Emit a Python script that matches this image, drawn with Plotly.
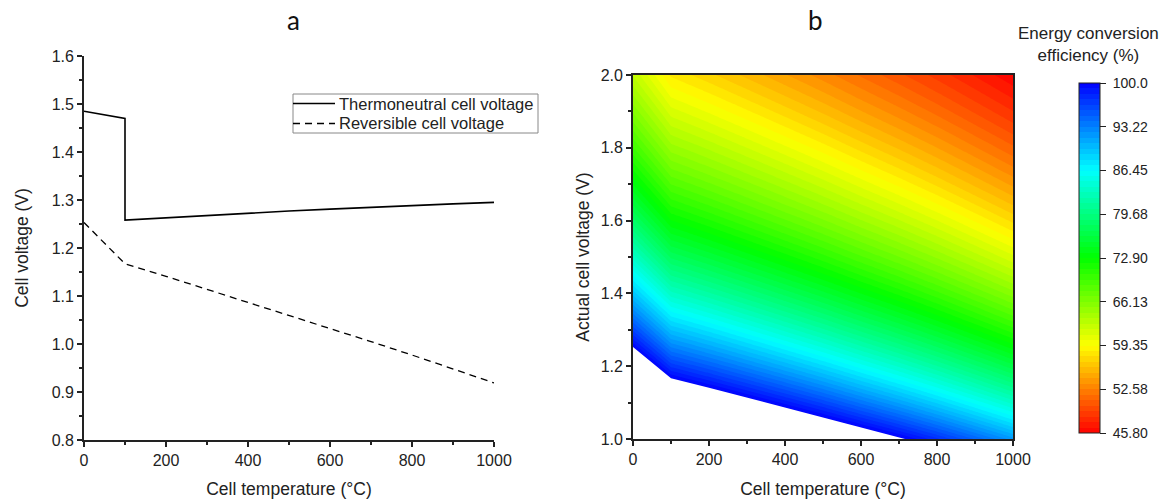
import numpy as np
import plotly.graph_objects as go

# ---- data ----
temp_tn = [0, 100, 100, 200, 300, 400, 500, 600, 700, 800, 900, 1000]
v_thermoneutral = [1.485, 1.470, 1.258, 1.263, 1.268, 1.273, 1.277, 1.281, 1.285, 1.288, 1.292, 1.295]

temp_rev = [0, 100, 200, 300, 400, 500, 600, 700, 800, 900, 1000]
v_reversible = [1.253, 1.167, 1.141, 1.114, 1.087, 1.060, 1.032, 1.005, 0.977, 0.948, 0.919]

series_names = ["Thermoneutral cell voltage", "Reversible cell voltage"]

cbar_ticks = [45.80, 52.58, 59.35, 66.13, 72.90, 79.68, 86.45, 93.22, 100.0]
cbar_text = ["45.80", "52.58", "59.35", "66.13", "72.90", "79.68", "86.45", "93.22", "100.0"]

# grid for panel b: efficiency = reversible voltage / actual voltage
t_grid = np.linspace(0, 1000, 201)
v_grid = np.linspace(1.0, 2.0, 201)
vrev_grid = np.interp(t_grid, temp_rev, v_reversible)
eff = vrev_grid[None, :] / v_grid[:, None] * 100.0

W, H = 1171, 499
FONT = "Liberation Sans, Arial, sans-serif"
AX = "#222222"

def px_x(p):
    return p / W

def px_y(p):
    return 1 - p / H

fig = go.Figure()

fig.add_trace(go.Scatter(x=temp_tn, y=v_thermoneutral, mode="lines",
                         name=series_names[0], showlegend=False,
                         line=dict(color="black", width=1.6),
                         xaxis="x", yaxis="y"))
fig.add_trace(go.Scatter(x=temp_rev, y=v_reversible, mode="lines",
                         name=series_names[1], showlegend=False,
                         line=dict(color="black", width=1.3, dash="7px,5px"),
                         xaxis="x", yaxis="y"))

colorscale = [[0.0, "rgb(255,0,0)"], [0.125, "rgb(255,128,0)"], [0.25, "rgb(255,255,0)"],
              [0.5, "rgb(0,255,0)"], [0.75, "rgb(0,255,255)"], [0.875, "rgb(0,128,255)"],
              [1.0, "rgb(0,0,255)"]]

fig.add_trace(go.Contour(
    x=t_grid, y=v_grid, z=eff,
    colorscale=colorscale, zmin=45.8, zmax=100,
    contours=dict(start=45.8, end=100, size=(100 - 45.8) / 64, coloring="fill", showlines=False),
    line=dict(width=0),
    showlegend=False,
    xaxis="x2", yaxis="y2",
    colorbar=dict(
        x=px_x(1079), xanchor="left", xref="paper",
        y=px_y(258), yanchor="middle",
        len=350, lenmode="pixels",
        thickness=21, thicknessmode="pixels",
        outlinewidth=1, outlinecolor=AX,
        tickvals=cbar_ticks, ticktext=["\u00a0" + t for t in cbar_text],
        ticks="outside", ticklen=6, tickcolor=AX,
        tickfont=dict(family=FONT, size=14, color="#222"),
        xpad=0, ypad=0,
    ),
    hoverinfo="skip",
))

# white region where actual voltage is below the reversible voltage
fig.add_trace(go.Scatter(x=temp_rev, y=v_reversible, mode="lines",
                         line=dict(color="white", width=0),
                         fill="tozeroy", fillcolor="white",
                         showlegend=False, xaxis="x2", yaxis="y2", hoverinfo="skip"))

axis_common = dict(
    showgrid=False, zeroline=False, showline=True, linecolor=AX, linewidth=1.8,
    ticks="outside", ticklen=5, tickwidth=1.5, tickcolor=AX, automargin=False,
    tickfont=dict(family=FONT, size=16, color="#222"),
)
title_font = dict(family=FONT, size=17.5, color="#222")

# hand-built legend box (compact, as in the reference)
LG_L, LG_R, LG_T, LG_B = 293, 538, 94, 133
shapes = [
    dict(type="rect", xref="paper", yref="paper",
         x0=px_x(LG_L), x1=px_x(LG_R), y0=px_y(LG_B), y1=px_y(LG_T),
         line=dict(color="#888", width=1), fillcolor="white", layer="above"),
    dict(type="line", xref="paper", yref="paper",
         x0=px_x(LG_L), x1=px_x(LG_L + 42), y0=px_y(103.5), y1=px_y(103.5),
         line=dict(color="black", width=1.5), layer="above"),
    dict(type="line", xref="paper", yref="paper",
         x0=px_x(LG_L), x1=px_x(LG_L + 42), y0=px_y(123.5), y1=px_y(123.5),
         line=dict(color="black", width=1.3, dash="7px,5px"), layer="above"),
]

annotations = [
    dict(text=series_names[0], x=px_x(337), y=px_y(103.5), xref="paper", yref="paper",
         xanchor="left", yanchor="middle", showarrow=False,
         font=dict(family=FONT, size=16.5, color="#222")),
    dict(text=series_names[1], x=px_x(337), y=px_y(123.5), xref="paper", yref="paper",
         xanchor="left", yanchor="middle", showarrow=False,
         font=dict(family=FONT, size=16.5, color="#222")),
    dict(text="a", x=px_x(293), y=px_y(20), xref="paper", yref="paper",
         xanchor="center", yanchor="middle", showarrow=False,
         font=dict(family="Lato, Open Sans, sans-serif", size=26, color="#111")),
    dict(text="b", x=px_x(815), y=px_y(20), xref="paper", yref="paper",
         xanchor="center", yanchor="middle", showarrow=False,
         font=dict(family="Lato, Open Sans, sans-serif", size=26, color="#111")),
    dict(text="Energy conversion<br>efficiency (%)", x=px_x(1088), y=px_y(45),
         xref="paper", yref="paper", xanchor="center", yanchor="middle",
         showarrow=False, align="center",
         font=dict(family=FONT, size=17, color="#222")),
]

fig.update_layout(
    width=W, height=H,
    margin=dict(l=0, r=0, t=0, b=0),
    paper_bgcolor="white", plot_bgcolor="white",
    font=dict(family=FONT, size=16, color="#222"),
    showlegend=False,
    xaxis=dict(domain=[px_x(84), px_x(494)], range=[0, 1000], dtick=200,
               minor=dict(dtick=100, ticks="outside", ticklen=3, tickcolor=AX),
               title=dict(text="Cell temperature (°C)", standoff=16, font=title_font),
               anchor="y", **axis_common),
    yaxis=dict(domain=[px_y(440), px_y(56)], range=[0.8, 1.6], dtick=0.1, tickformat=".1f",
               minor=dict(dtick=0.05, ticks="outside", ticklen=3, tickcolor=AX),
               title=dict(text="Cell voltage (V)", standoff=19, font=title_font),
               anchor="x", **axis_common),
    xaxis2=dict(domain=[px_x(633), px_x(1013)], range=[0, 1000], dtick=200,
                minor=dict(dtick=100, ticks="outside", ticklen=3, tickcolor=AX),
                title=dict(text="Cell temperature (°C)", standoff=16, font=title_font),
                mirror=True, anchor="y2", **axis_common),
    yaxis2=dict(domain=[px_y(439), px_y(75)], range=[1.0, 2.0], dtick=0.2, tickformat=".1f",
                minor=dict(dtick=0.1, ticks="outside", ticklen=3, tickcolor=AX),
                title=dict(text="Actual cell voltage (V)", standoff=7, font=title_font),
                mirror=True, anchor="x2", **axis_common),
    shapes=shapes,
    annotations=annotations,
)

fig.write_html("out.html", config={"displayModeBar": False},
               post_script="document.body.style.margin='0';")
